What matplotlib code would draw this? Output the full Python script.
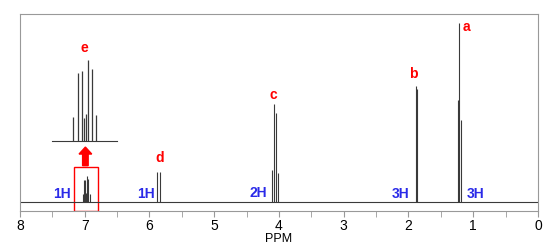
import numpy as np
import matplotlib.pyplot as plt
from matplotlib.patches import Rectangle

plt.rcParams['font.family'] = ['Liberation Sans', 'DejaVu Sans']

# peak positions (ppm) and heights (a = 100)
pk_a = [1.235, 1.215, 1.19]
h_a = [57, 100, 46]
pk_b = [1.889, 1.864]
h_b = [65, 63]
pk_c = [4.103, 4.072, 4.046, 4.020]
h_c = [18, 55, 50, 16]
pk_d = [5.88, 5.83]
h_d = [17, 16.5]
pk_e = [7.034, 7.012, 6.993, 6.985, 6.974, 6.966, 6.946, 6.926]
h_e = [4.3, 12.2, 12.5, 4.1, 4.8, 14.5, 12.9, 4.7]

labels = ['a', 'b', 'c', 'd']
label_pos = [(1.10, 97.5), (1.93, 71.5), (4.09, 59.8), (5.84, 24.6)]
integrals = ['1H', '1H', '2H', '3H', '3H']
int_pos = [(7.35, 4.5), (6.05, 4.5), (4.32, 5.0), (2.12, 4.5), (0.97, 4.5)]

line_c = '#3a3a3a'
frame_c = '#999999'

fig = plt.figure(figsize=(5.6, 2.45), dpi=100)
ax = fig.add_axes([0.0357, 0.1388, 0.925, 0.804])

ax.axhline(0, color=line_c, lw=0.8)
all_pk = pk_a + pk_b + pk_c + pk_d + pk_e
all_h = h_a + h_b + h_c + h_d + h_e
ax.vlines(all_pk, 0, all_h, color=line_c, lw=0.8)

ax.set_xlim(8, 0)
ax.set_ylim(-5, 105)
ax.set_yticks([])
ax.set_xticks(range(0, 9))
ax.set_xticks(np.arange(0.5, 8, 1.0), minor=True)
ax.tick_params(axis='x', which='both', direction='out', length=4, color=frame_c,
               labelsize=10, pad=2)
for s in ax.spines.values():
    s.set_color(frame_c)
ax.set_xlabel('PPM', fontsize=9, labelpad=0)

for t, (x, y) in zip(labels, label_pos):
    ax.text(x, y, t, color='red', fontsize=10, fontweight='bold', ha='center', va='center')
for t, (x, y) in zip(integrals, int_pos):
    ax.text(x, y, t, color='#2a2ae8', fontsize=10, fontweight='bold', ha='center', va='center')

ax.add_patch(Rectangle((6.80, -4.9), 0.366, 24.6, fill=False, edgecolor='red', lw=1))
ax.arrow(6.99, 20.3, 0, 6.5, width=0.086, head_width=0.196, head_length=3.9,
         color='red', length_includes_head=False)

# zoomed inset of multiplet e
ins = fig.add_axes([0.091, 0.3347, 0.121, 0.4816])
ins.set_facecolor('#fafafa')
ins.axhline(0, color=line_c, lw=0.8, xmin=0.02, xmax=0.98)
ins.vlines(pk_e, 0, h_e, color=line_c, lw=0.9)
ins.set_xlim(7.14, 6.82)
ins.set_ylim(-3.94, 17.2)
ins.axis('off')
ins.text(6.984, 16.7, 'e', color='red', fontsize=10, fontweight='bold',
         ha='center', va='center', clip_on=False)

fig.savefig('out.png', dpi=100)
